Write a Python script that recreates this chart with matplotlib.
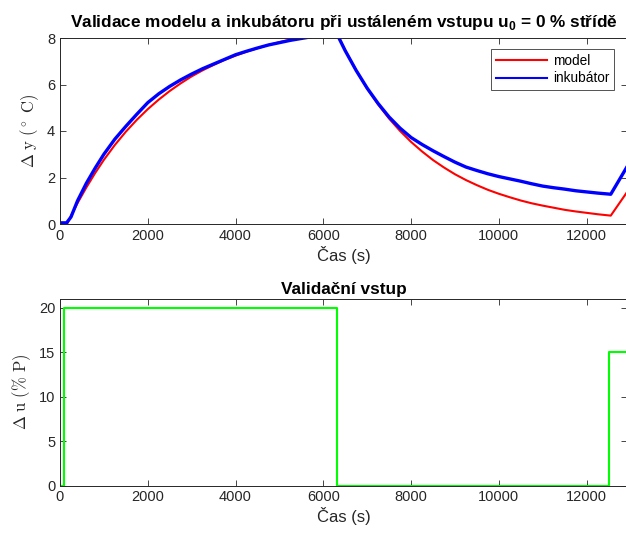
import matplotlib
matplotlib.use('Agg')
import matplotlib.pyplot as plt

plt.rcParams['font.family'] = ['Liberation Sans', 'DejaVu Sans']
plt.rcParams['mathtext.fontset'] = 'custom'
plt.rcParams['mathtext.rm'] = 'Liberation Sans'
plt.rcParams['mathtext.bf'] = 'Liberation Sans:bold'

# model response
t_model = [0, 160, 250, 400, 600, 800, 1000, 1250, 1500, 1750, 2000, 2250, 2500,
           2750, 3000, 3250, 3500, 3750, 4000, 4250, 4500, 4750, 5000, 5250,
           5500, 5750, 6000, 6290, 6500, 6750, 7000, 7250, 7500, 7750, 8000,
           8250, 8500, 8750, 9000, 9250, 9500, 9750, 10000, 10250, 10500, 10750,
           11000, 11250, 11500, 11750, 12000, 12250, 12550, 12920]
y_model = [0, 0, 0.35, 0.9, 1.57, 2.19, 2.76, 3.4, 3.97, 4.48, 4.94, 5.35, 5.72,
           6.05, 6.35, 6.61, 6.84, 7.06, 7.24, 7.41, 7.56, 7.7, 7.82, 7.93,
           8.03, 8.11, 8.19, 8.28, 7.47, 6.6, 5.82, 5.14, 4.53, 4.0, 3.53,
           3.12, 2.75, 2.43, 2.14, 1.89, 1.67, 1.47, 1.3, 1.15, 1.01, 0.89,
           0.79, 0.7, 0.61, 0.54, 0.48, 0.42, 0.36, 1.37]

# incubator measurement
t_inc = [0, 150, 250, 400, 600, 800, 1000, 1250, 1500, 1750, 2000, 2250, 2500,
         2750, 3000, 3250, 3500, 3750, 4000, 4250, 4500, 4750, 5000, 5250,
         5500, 5750, 6000, 6290, 6500, 6750, 7000, 7250, 7500, 7750, 8000,
         8250, 8500, 8750, 9000, 9250, 9500, 9750, 10000, 10250, 10500, 10750,
         11000, 11250, 11500, 11750, 12000, 12250, 12550, 12920]
y_inc = [0.05, 0.05, 0.3, 1.0, 1.75, 2.4, 3.0, 3.65, 4.2, 4.72, 5.22, 5.6, 5.92,
         6.2, 6.45, 6.68, 6.88, 7.08, 7.28, 7.43, 7.57, 7.7, 7.8, 7.9,
         7.98, 8.06, 8.15, 8.25, 7.45, 6.6, 5.84, 5.18, 4.6, 4.12, 3.72,
         3.42, 3.15, 2.9, 2.66, 2.45, 2.3, 2.16, 2.04, 1.94, 1.84, 1.73,
         1.63, 1.56, 1.5, 1.43, 1.38, 1.33, 1.28, 2.46]

# validation input
t_u = [0, 80, 6310, 12510, 12920]
u = [0, 20, 0, 15, 15]

x_ticks = [0, 2000, 4000, 6000, 8000, 10000, 12000]
x_end = 12920
gray = (0.15, 0.15, 0.15)

fig = plt.figure(figsize=(6.26, 5.33), dpi=100)
ax1 = fig.add_axes([60 / 626, 309 / 533, 567 / 626, 186 / 533])
ax2 = fig.add_axes([60 / 626, 47.5 / 533, 567 / 626, 186.5 / 533])


def style(ax):
    ax.tick_params(direction='in', top=True, right=True, labelsize=10.5,
                   colors=gray, length=4, width=0.6)
    for s in ax.spines.values():
        s.set_color(gray)
        s.set_linewidth(0.7)
    ax.set_xticks(x_ticks)
    ax.set_xlim(0, x_end)


ax1.plot(t_model, y_model, color='red', lw=1.5, label='model')
ax1.plot(t_inc, y_inc, color='blue', lw=2.4, label='inkubátor')
ax1.set_ylim(0, 8)
ax1.set_yticks([0, 2, 4, 6, 8])
style(ax1)
ax1.set_title(r'Validace modelu a inkubátoru při ustáleném vstupu u$_\mathbf{0}$ = 0 % střídě',
              fontsize=12.4, fontweight='bold', pad=8)
ax1.set_xlabel('Čas (s)', fontsize=12, color=gray, labelpad=2)
ax1.set_ylabel(r'$\Delta\ \mathrm{y}\ (^\circ\ \mathrm{C})$', fontsize=12, color=gray,
               labelpad=4, math_fontfamily='cm')
leg = ax1.legend(loc='upper right', bbox_to_anchor=(0.977, 0.94), fontsize=9.8,
                 fancybox=False, edgecolor=gray, handlelength=3.8, borderaxespad=0,
                 borderpad=0.35, labelspacing=0.25, handletextpad=0.4)
leg.get_frame().set_linewidth(0.7)
leg.get_lines()[1].set_linewidth(1.5)

ax2.step(t_u, u, where='post', color=(0, 1, 0), lw=1.5)
ax2.set_ylim(0, 21)
ax2.set_yticks([0, 5, 10, 15, 20])
style(ax2)
ax2.set_title('Validační vstup', fontsize=12.4, fontweight='bold', pad=3.5)
ax2.set_xlabel('Čas (s)', fontsize=12, color=gray, labelpad=2)
ax2.set_ylabel(r'$\Delta\ \mathrm{u}\ (\%\ \mathrm{P})$', fontsize=12, color=gray,
               labelpad=4, math_fontfamily='cm')

fig.savefig('out.png', dpi=100)
